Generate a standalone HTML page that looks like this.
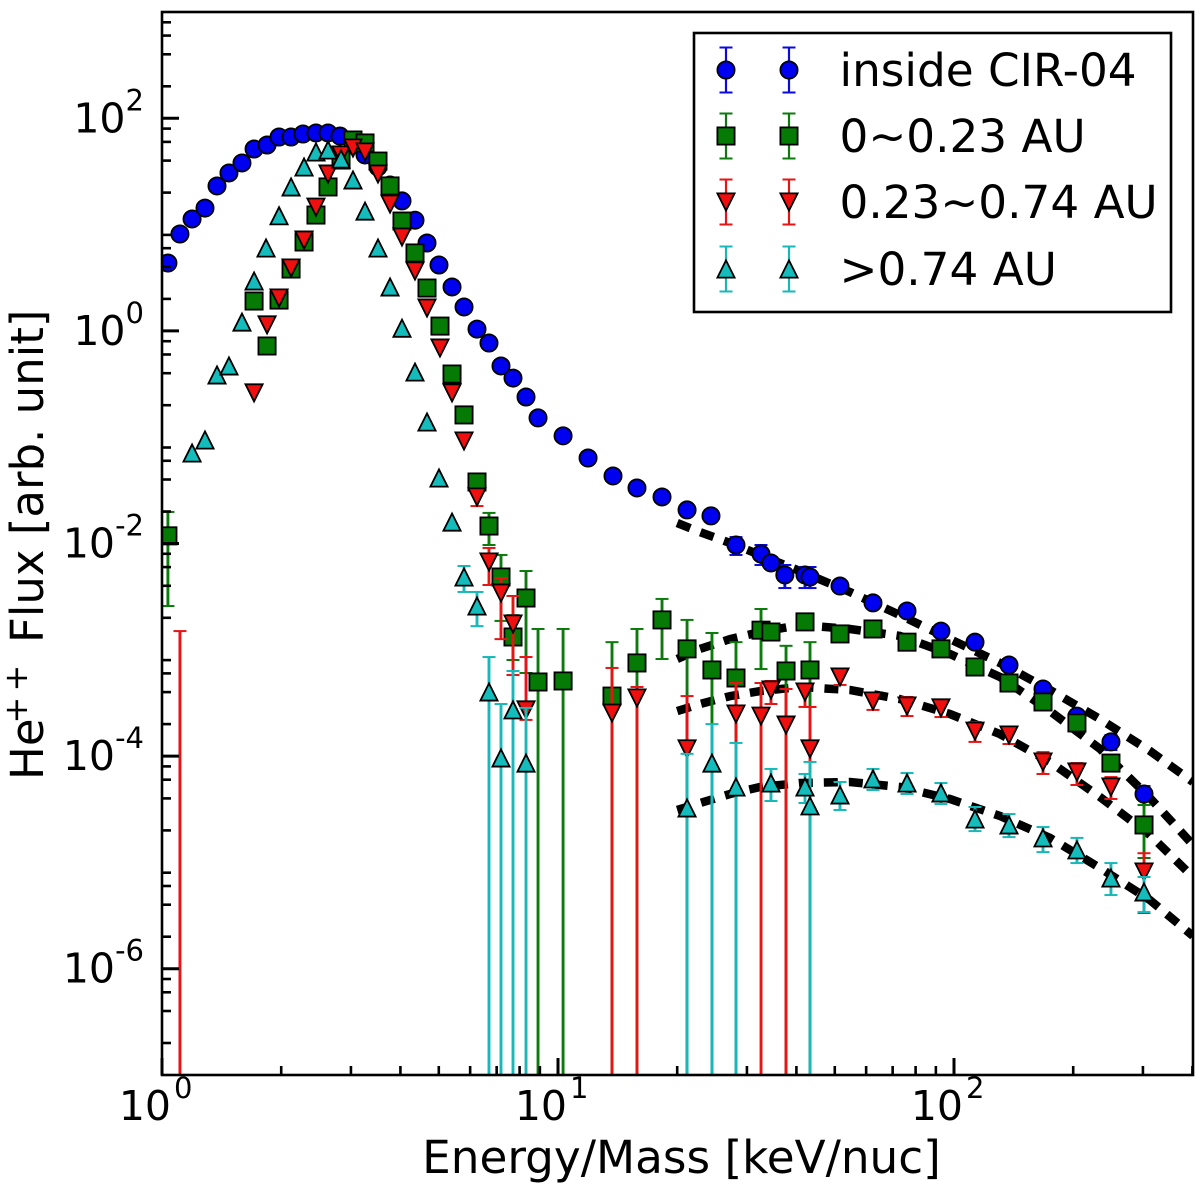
<!DOCTYPE html>
<html lang="en">
<head>
<meta charset="utf-8">
<title>He++ flux versus energy per mass</title>
<style>
html,body{margin:0;padding:0;background:#fff;}
svg{display:block;}
text{font-family:"DejaVu Sans","Liberation Sans",sans-serif;fill:#000;}
</style>
</head>
<body>
<svg id="chart" xmlns="http://www.w3.org/2000/svg" width="1200" height="1190" viewBox="0 0 1200 1190">
  <defs><clipPath id="plot-clip"><rect x="162" y="12" width="1031" height="1063"/></clipPath></defs>
  <rect x="0" y="0" width="1200" height="1190" fill="#fff"/>
  <g id="plot" clip-path="url(#plot-clip)"></g>
  <g id="axes"></g>
  <text x="681.5" y="1173" font-size="45.3" text-anchor="middle">Energy/Mass [keV/nuc]</text>
  <text transform="translate(43,780) rotate(-90)" font-size="45">He</text>
  <text transform="translate(27,723.5) rotate(-90)" font-size="32">+</text>
  <text transform="translate(27,691.5) rotate(-90)" font-size="32">+</text>
  <text transform="translate(43,643) rotate(-90)" font-size="45">Flux [arb. unit]</text>
  <g id="legend"></g>
</svg>
<script>
// Axis limits and tick values
const xLimits = [1, 400];
const yLimits = [1e-7, 1e3];
const xTickExponents = [0, 1, 2];
const yTickExponents = [2, 0, -2, -4, -6];
const xMinorMultiples = [2, 3, 4, 5, 6, 7, 8, 9];
const yMinorMultiples = [2, 4, 6, 8];

// inside CIR-04
const blueEnergy = [1.035,1.110,1.191,1.284,1.377,1.476,1.592,1.708,1.842,1.975,2.118,2.270,2.448,2.626,2.815,3.036,3.256,3.511,3.766,4.037,4.354,4.669,5.006,5.400,5.790,6.244,6.695,7.179,7.698,8.303,8.904,10.30,11.91,13.77,15.83,18.31,21.18,24.34,28.15,32.56,34.5,37.4,42.05,43.29,51.54,62.44,76.1,92.7,113,137.7,167.8,204.4,249.1,301.9];
const blueFlux = [4.35,8.16,11.3,14.3,23.1,30.6,38.0,51.4,56.1,66.7,66.7,71.2,72.8,72.8,68.1,56.1,45.2,34.8,23.6,16.7,11.0,6.71,4.17,2.59,1.68,1.04,0.769,0.468,0.360,0.239,0.152,0.103,0.0637,0.0432,0.0333,0.0274,0.0207,0.0182,9.68e-3,7.97e-3,6.56e-3,5.06e-3,5.06e-3,4.84e-3,3.98e-3,2.76e-3,2.32e-3,1.50e-3,1.18e-3,7.19e-4,4.28e-4,2.38e-4,1.36e-4,4.40e-5];
const blueBarEnergy = [28.15,32.56,37.4,42.05,43.29,249.1,301.9];
const blueBarHigh = [1.15e-2,9.68e-3,6.28e-3,6.01e-3,6.01e-3,1.58e-4,5.23e-5];
const blueBarLow = [7.80e-3,6.28e-3,3.81e-3,3.81e-3,3.81e-3,1.14e-4,3.47e-5];

// 0~0.23 AU
const greenEnergy = [1.035,1.708,1.842,1.975,2.118,2.284,2.448,2.626,2.832,3.036,3.256,3.511,3.766,4.037,4.354,4.669,5.035,5.400,5.790,6.244,6.695,7.179,7.698,8.303,8.904,10.30,13.69,15.83,18.31,21.18,24.48,28.15,32.56,34.5,37.66,42.05,43.29,51.54,62.44,76.1,92.7,113,137.7,167.8,204.4,249.1,301.9];
const greenFlux = [1.18e-2,1.91,0.721,1.95,3.82,6.86,12.3,22.6,40.5,62.5,58.6,39.6,23.1,10.8,5.41,2.53,1.11,0.393,0.162,3.79e-2,1.46e-2,4.84e-3,1.32e-3,3.07e-3,4.98e-4,5.09e-4,3.67e-4,7.52e-4,1.91e-3,1.02e-3,6.46e-4,5.43e-4,1.53e-3,1.47e-3,6.32e-4,1.83e-3,6.46e-4,1.41e-3,1.57e-3,1.18e-3,1.02e-3,6.89e-4,4.87e-4,3.23e-4,2.05e-4,8.60e-5,2.25e-5];
const greenBarEnergy = [1.035,6.695,7.179,7.698,8.303,8.904,10.30,13.69,15.83,18.31,21.18,24.48,28.15,32.56,37.66,43.29,301.9];
const greenBarHigh = [1.98e-2,1.94e-2,7.80e-3,2.12e-3,5.51e-3,1.57e-3,1.57e-3,1.18e-3,1.57e-3,3.01e-3,1.91e-3,1.44e-3,1.18e-3,2.42e-3,1.09e-3,1.18e-3,3.47e-5];
const greenBarLow = [2.58e-3,9.68e-3,1.87e-3,8.02e-4,6.05e-4,0,0,0,0,8.19e-4,0,0,0,6.59e-4,0,2.90e-4,1.10e-5];

// 0.23~0.74 AU
const redEnergy = [1.708,1.842,1.975,2.118,2.284,2.448,2.626,2.832,3.036,3.256,3.511,3.766,4.037,4.354,4.669,5.035,5.400,5.790,6.244,6.695,7.179,7.698,8.303,13.69,15.83,21.18,28.15,32.56,34.5,37.66,42.05,43.29,51.54,62.44,76.1,92.7,113,137.7,167.8,204.4,249.1,301.9];
const redFlux = [0.261,1.14,2.04,3.91,7.16,14.6,29.9,45.2,52.6,48.2,29.9,15.6,7.64,3.66,1.64,0.690,0.261,9.21e-2,2.74e-2,6.70e-3,3.42e-3,1.75e-3,2.72e-4,2.54e-4,3.52e-4,1.17e-4,2.49e-4,2.38e-4,4.19e-4,1.96e-4,4.01e-4,1.17e-4,5.55e-4,3.30e-4,2.96e-4,2.84e-4,1.72e-4,1.58e-4,8.81e-5,7.08e-5,5.12e-5,8.13e-6];
const redBarEnergy = [1.110,6.244,6.695,7.179,7.698,8.303,13.69,15.83,21.18,28.15,32.56,34.5,37.66,42.05,43.29,51.54,62.44,76.1,92.7,113,137.7,167.8,204.4,249.1,301.9];
const redBarHigh = [1.50e-3,3.18e-2,9.08e-3,4.73e-3,3.21e-3,8.55e-4,6.75e-4,4.47e-4,3.67e-4,4.87e-4,4.87e-4,5.09e-4,4.28e-4,4.76e-4,2.90e-4,6.46e-4,3.92e-4,3.60e-4,3.37e-4,2.09e-4,1.88e-4,1.09e-4,8.60e-5,6.35e-5,1.22e-5];
const redBarLow = [0,2.25e-2,4.07e-3,1.26e-3,5.79e-4,2.19e-4,0,0,0,0,0,3.09e-4,0,2.90e-4,0,4.67e-4,2.72e-4,2.38e-4,2.33e-4,1.36e-4,1.30e-4,6.79e-5,5.35e-5,3.95e-5,3.34e-6];

// >0.74 AU
const tealEnergy = [1.191,1.284,1.377,1.476,1.592,1.708,1.831,1.975,2.118,2.284,2.448,2.626,2.832,3.036,3.256,3.511,3.766,4.037,4.354,4.669,5.006,5.400,5.790,6.244,6.695,7.179,7.698,8.303,21.18,24.48,28.15,34.5,42.05,43.29,51.54,62.44,76.1,92.7,113,137.7,167.8,204.4,249.1,301.9];
const tealFlux = [7.10e-2,9.41e-2,0.385,0.468,1.21,2.95,6.02,12.1,22.6,34.8,48.2,50.3,41.4,26.3,13.4,6.02,2.59,1.06,0.410,0.139,4.13e-2,1.59e-2,4.84e-3,2.58e-3,4.01e-4,9.60e-5,2.72e-4,8.60e-5,3.25e-5,8.60e-5,5.12e-5,5.58e-5,5.12e-5,3.40e-5,4.31e-5,6.10e-5,5.58e-5,4.50e-5,2.56e-5,2.25e-5,1.70e-5,1.31e-5,7.13e-6,5.27e-6];
const tealBarEnergy = [5.790,6.244,6.695,7.179,7.698,8.303,21.18,24.48,28.15,34.5,42.05,43.29,51.54,62.44,76.1,92.7,113,137.7,167.8,204.4,249.1,301.9];
const tealBarHigh = [6.14e-3,3.50e-3,8.55e-4,3.09e-4,6.32e-4,2.84e-4,1.05e-4,2.00e-4,1.33e-4,7.57e-5,6.79e-5,8.81e-5,5.71e-5,7.57e-5,6.93e-5,5.58e-5,3.32e-5,2.85e-5,2.15e-5,1.70e-5,9.86e-6,7.29e-6];
const tealBarLow = [3.50e-3,1.67e-3,0,0,0,0,0,0,0,3.78e-5,3.62e-5,0,3.11e-5,4.80e-5,4.40e-5,3.54e-5,1.97e-5,1.73e-5,1.25e-5,9.86e-6,4.93e-6,3.41e-6];

// Dashed fit curves
const fitEnergy = [20,22.84,27.2,32.4,40.8,54.6,73.0,97.7,130.7,174.8,233.7,312.5,401.3];
const fitBlue = [1.56e-2,1.28e-2,1.01e-2,7.80e-3,5.51e-3,3.50e-3,2.12e-3,1.26e-3,7.52e-4,4.19e-4,2.23e-4,1.12e-4,5.71e-5];
const fitGreen = [8.19e-4,1.02e-3,1.26e-3,1.47e-3,1.71e-3,1.57e-3,1.35e-3,9.14e-4,5.55e-4,2.65e-4,1.17e-4,4.04e-5,1.46e-5];
const fitRed = [2.65e-4,3.09e-4,3.67e-4,4.09e-4,4.47e-4,4.19e-4,3.44e-4,2.49e-4,1.61e-4,8.81e-5,4.12e-5,1.81e-5,7.29e-6];
const fitTeal = [3.11e-5,3.62e-5,4.40e-5,5.12e-5,5.58e-5,5.71e-5,5.12e-5,3.95e-5,2.73e-5,1.70e-5,8.85e-6,4.43e-6,2.03e-6];

// Legend labels
const legendLabels = ["inside CIR-04", "0~0.23 AU", "0.23~0.74 AU", ">0.74 AU"];

const SVGNS = "http://www.w3.org/2000/svg";
const LEFT = 162, RIGHT = 1193, TOP = 12, BOTTOM = 1075;
const BLUE = "#0000f0", GREEN = "#057a05", RED = "#f00f0f", TEAL = "#14bcbc";
const BLUE_BAR = "#0a0ae0", GREEN_BAR = "#0c7a0c", RED_BAR = "#e61414", TEAL_BAR = "#18b8b8";

function xScale(v) {
  const a = Math.log10(xLimits[0]), b = Math.log10(xLimits[1]);
  return LEFT + (Math.log10(v) - a) / (b - a) * (1192.4 - LEFT);
}
function yScale(v) {
  const a = Math.log10(yLimits[0]), b = Math.log10(yLimits[1]);
  return BOTTOM - (Math.log10(v) - a) / (b - a) * (BOTTOM - TOP);
}
function make(tag, attrs, parent) {
  const el = document.createElementNS(SVGNS, tag);
  for (const k in attrs) el.setAttribute(k, attrs[k]);
  parent.appendChild(el);
  return el;
}
function drawMarker(kind, cx, cy, fill, parent) {
  const s = 8.6;
  let el;
  if (kind === "circle") {
    el = make("circle", {cx: cx, cy: cy, r: s}, parent);
  } else if (kind === "square") {
    el = make("rect", {x: cx - s, y: cy - s, width: 2 * s, height: 2 * s}, parent);
  } else if (kind === "down") {
    el = make("polygon", {points: (cx - s) + "," + (cy - s) + " " + (cx + s) + "," + (cy - s) + " " + cx + "," + (cy + s)}, parent);
  } else {
    el = make("polygon", {points: (cx - s) + "," + (cy + s) + " " + (cx + s) + "," + (cy + s) + " " + cx + "," + (cy - s)}, parent);
  }
  el.setAttribute("fill", fill);
  el.setAttribute("stroke", "#000");
  el.setAttribute("stroke-width", "1.8");
  return el;
}

const plot = document.getElementById("plot");
const axes = document.getElementById("axes");
const legend = document.getElementById("legend");

// Fit curves
const fitSeries = [fitBlue, fitGreen, fitRed, fitTeal];
const fitNames = ["fit-curve-inside", "fit-curve-near", "fit-curve-mid", "fit-curve-far"];
fitSeries.forEach(function (values, i) {
  const pts = values.map(function (v, j) { return xScale(fitEnergy[j]).toFixed(1) + "," + yScale(v).toFixed(1); }).join(" ");
  const line = make("polyline", {points: pts, fill: "none", stroke: "#000", "stroke-width": 8.5, "stroke-dasharray": "14 11"}, plot);
  
  
});

// Data series
const seriesList = [
  {name: "inside", kind: "circle", fill: BLUE, bar: BLUE_BAR, e: blueEnergy, f: blueFlux, be: blueBarEnergy, bh: blueBarHigh, bl: blueBarLow},
  {name: "near", kind: "square", fill: GREEN, bar: GREEN_BAR, e: greenEnergy, f: greenFlux, be: greenBarEnergy, bh: greenBarHigh, bl: greenBarLow},
  {name: "mid", kind: "down", fill: RED, bar: RED_BAR, e: redEnergy, f: redFlux, be: redBarEnergy, bh: redBarHigh, bl: redBarLow},
  {name: "far", kind: "up", fill: TEAL, bar: TEAL_BAR, e: tealEnergy, f: tealFlux, be: tealBarEnergy, bh: tealBarHigh, bl: tealBarLow}
];
seriesList.forEach(function (s) {
  const g = make("g", {}, plot);
  
  
  s.be.forEach(function (energy, i) {
    const px = xScale(energy);
    const yHi = yScale(s.bh[i]);
    const yLo = s.bl[i] > 0 ? yScale(s.bl[i]) : BOTTOM;
    const bar = make("line", {x1: px, x2: px, y1: yHi, y2: yLo, stroke: s.bar, "stroke-width": 2.9}, g);
    
    
    const capTop = make("line", {x1: px - 6.5, x2: px + 6.5, y1: yHi, y2: yHi, stroke: s.bar, "stroke-width": 2}, g);
    
    
    if (s.bl[i] > 0) {
      const capBottom = make("line", {x1: px - 6.5, x2: px + 6.5, y1: yLo, y2: yLo, stroke: s.bar, "stroke-width": 2}, g);
      
      
    }
  });
  s.e.forEach(function (energy, i) {
    const m = drawMarker(s.kind, xScale(energy), yScale(s.f[i]), s.fill, g);
    
    
  });
});

// Frame
const frame = make("rect", {x: LEFT, y: TOP, width: RIGHT - LEFT, height: BOTTOM - TOP, fill: "none", stroke: "#000", "stroke-width": 2.6}, axes);



// X ticks
for (let k = Math.log10(xLimits[0]); k <= 2; k++) {
  xMinorMultiples.forEach(function (m) {
    const v = m * Math.pow(10, k);
    if (v > xLimits[1]) return;
    const px = xScale(v);
    const t = make("line", {x1: px, x2: px, y1: BOTTOM, y2: BOTTOM - 9, stroke: "#000", "stroke-width": 2.6}, axes);
    
    
  });
}
xTickExponents.forEach(function (ex) {
  const px = xScale(Math.pow(10, ex));
  const t = make("line", {x1: px, x2: px, y1: BOTTOM, y2: BOTTOM - 17, stroke: "#000", "stroke-width": 3}, axes);
  
  
  const base = make("text", {x: px + 9, y: 1120, "font-size": 41, "text-anchor": "end"}, axes);
  base.textContent = "10";
  
  
  const sup = make("text", {x: px + 12, y: 1098, "font-size": 29}, axes);
  sup.textContent = String(ex);
  
  
});

// Y ticks
for (let k = -7; k <= 2; k++) {
  yMinorMultiples.forEach(function (m) {
    const py = yScale(m * Math.pow(10, k));
    const t = make("line", {x1: LEFT, x2: LEFT + 9, y1: py, y2: py, stroke: "#000", "stroke-width": 2.6}, axes);
    
    
  });
}
yTickExponents.forEach(function (ex) {
  const py = yScale(Math.pow(10, ex));
  const t = make("line", {x1: LEFT, x2: LEFT + 17, y1: py, y2: py, stroke: "#000", "stroke-width": 3}, axes);
  
  
  const sup = make("text", {x: 144, y: py - 8, "font-size": 29, "text-anchor": "end"}, axes);
  sup.textContent = String(ex);
  
  
  const supWidth = ex < 0 ? 29 : 18.5;
  const base = make("text", {x: 144 - supWidth, y: py + 14, "font-size": 41, "text-anchor": "end"}, axes);
  base.textContent = "10";
  
  
});

// Legend
const legendBox = make("rect", {x: 694, y: 33, width: 477, height: 279, fill: "#fff", stroke: "#000", "stroke-width": 2.6}, legend);


const legendRowY = [70, 136, 202, 269];
const legendMarkerX = [726, 789];
seriesList.forEach(function (s, i) {
  const row = make("g", {}, legend);
  
  
  const cy = legendRowY[i];
  legendMarkerX.forEach(function (cx) {
    make("line", {x1: cx, x2: cx, y1: cy - 22.5, y2: cy + 22.5, stroke: s.bar, "stroke-width": 2.2}, row);
    make("line", {x1: cx - 6.5, x2: cx + 6.5, y1: cy - 22.5, y2: cy - 22.5, stroke: s.bar, "stroke-width": 2}, row);
    make("line", {x1: cx - 6.5, x2: cx + 6.5, y1: cy + 22.5, y2: cy + 22.5, stroke: s.bar, "stroke-width": 2}, row);
    drawMarker(s.kind, cx, cy, s.fill, row);
  });
  const label = make("text", {x: 839.5, y: cy + 16, "font-size": 45.3}, row);
  label.textContent = legendLabels[i];
  
  
});
</script>
</body>
</html>
